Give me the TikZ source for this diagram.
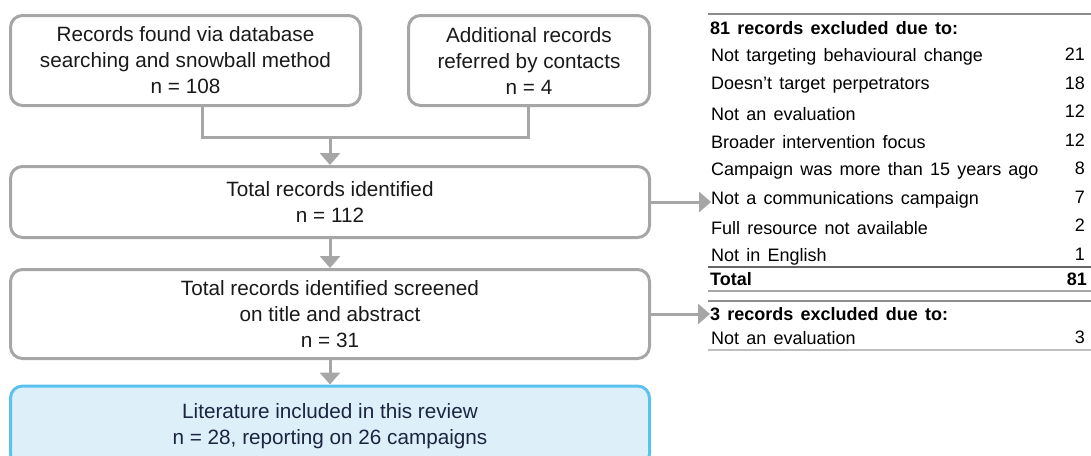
\documentclass[tikz,border=0pt]{standalone}
\usepackage{fontspec}
\setmainfont{Liberation Sans}
\usetikzlibrary{arrows.meta,calc}
\definecolor{boxgray}{HTML}{A6A6A6}
\definecolor{bluebd}{HTML}{5BC2EE}
\definecolor{bluefill}{HTML}{DDF0FA}
\definecolor{navy}{HTML}{1C2440}
\definecolor{rulegray}{HTML}{8C8C8C}
\newcommand{\tabfont}{\fontsize{18}{22}\selectfont\spaceskip=0.4em plus 0.1em\relax}
\newcommand{\tabbold}{\fontsize{18}{22}\selectfont\bfseries\spaceskip=0.4em plus 0.1em\relax}
\tikzset{
  flowbox/.style={draw=boxgray, line width=3pt, rounded corners=12pt, align=center,
    font=\fontsize{20.7}{26}\selectfont, text=black!90, inner sep=0pt},
  bluebox/.style={flowbox, draw=bluebd, fill=bluefill, text=navy},
  conn/.style={draw=boxgray, line width=3pt},
  arr/.style={conn, -{Triangle[length=12pt,width=20pt]}},
  rowtxt/.style={anchor=west, inner sep=0pt, font={\tabfont}},
  rownum/.style={anchor=east, inner sep=0pt, font={\fontsize{18}{22}\selectfont}},
  boldtxt/.style={anchor=west, inner sep=0pt, font={\tabbold}},
  tabrule/.style={draw=rulegray, line width=2pt}
}
\begin{document}
\begin{tikzpicture}[x=1pt,y=-1pt]
\useasboundingbox (0,0) rectangle (1091,455);
\begin{scope}
\clip (0,0) rectangle (1091,455);
% flow boxes
\node[flowbox, minimum width=350pt, minimum height=90pt] (b1) at (185.5,60.5)
  {Records found via database\\searching and snowball method\\n = 108};
\node[flowbox, minimum width=241pt, minimum height=90pt] (b2) at (529,60.5)
  {Additional records\\referred by contacts\\n = 4};
\node[flowbox, minimum width=639pt, minimum height=71pt] (b3) at (330,202)
  {Total records identified\\n = 112};
\node[flowbox, minimum width=639pt, minimum height=89pt] (b4) at (330,314)
  {Total records identified screened\\on title and abstract\\n = 31};
\node[bluebox, minimum width=639pt, minimum height=80pt] (b5) at (330,426)
  {Literature included in this review\\n = 28, reporting on 26 campaigns};
\end{scope}
% connectors
\coordinate (j) at (330,137);
\draw[conn] ([xshift=16.5pt]b1.south) |- (j) -| ([xshift=-1pt]b2.south);
\draw[arr] (j) -- (b3.north);
\draw[arr] (b3) -- (b4);
\draw[arr] (b4) -- (b5);
% table 1
\draw[tabrule] (708,14) -- (1091,14);
\node[boldtxt] (h1) at (710,28) {81 records excluded due to:};
\foreach \i/\t/\n in {1/Not targeting behavioural change/21,
                      2/Doesn’t target perpetrators/18,
                      3/Not an evaluation/12,
                      4/Broader intervention focus/12,
                      5/Campaign was more than 15 years ago/8,
                      6/Not a communications campaign/7,
                      7/Full resource not available/2,
                      8/Not in English/1}{
  \node[rowtxt] (r\i) at (711,{28.5+\i*28.5}) {\t};
  \node[rownum] (n\i) at (1085,{26+\i*28.5}) {\n};
}
\draw[tabrule, draw=black!60] (708,267) -- (1091,267);
\node[boldtxt] (tot) at (710,279) {Total};
\node[rownum, font={\fontsize{18}{22}\selectfont\bfseries}] (totn) at (1087,279) {81};
\draw[tabrule, draw=black!35, line width=2.5pt] (708,291) -- (1091,291);
% table 2
\draw[tabrule, draw=black!45] (708,301) -- (1091,301);
\node[boldtxt] (h2) at (710,314) {3 records excluded due to:};
\node[rowtxt] (s1) at (711,338) {Not an evaluation};
\node[rownum] (m1) at (1085,337) {3};
\draw[tabrule, draw=black!25, line width=1.5pt] (708,350) -- (1091,350);
% exclusion arrows
\draw[arr] (b3.east) -- (b3.east -| r6.west);
\draw[arr] (b4.east) -- (b4.east -| h2.west);
\end{tikzpicture}
\end{document}
